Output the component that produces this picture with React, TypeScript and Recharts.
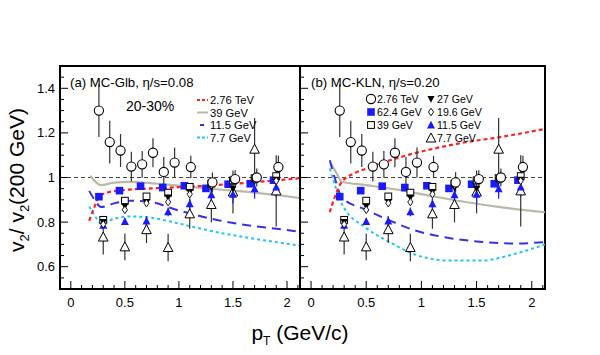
import React from 'react'
import {
  ComposedChart,
  Line,
  Scatter,
  ErrorBar,
  XAxis,
  YAxis,
  ReferenceLine,
  ReferenceArea,
} from 'recharts'

const FONT = '"Liberation Sans", Arial, Helvetica, sans-serif'

// tick labels
const X_MAJOR = [0, 0.5, 1, 1.5, 2]
const Y_MAJOR = [0.6, 0.8, 1, 1.2, 1.4]
const X_DOMAIN: [number, number] = [-0.1, 2.12]
const Y_DOMAIN: [number, number] = [0.5, 1.5]

// ALICE 2.76 TeV (open circles)
const alicePt = [0.26, 0.36, 0.46, 0.56, 0.66, 0.76, 0.86, 0.96, 1.11, 1.31, 1.52, 1.72, 1.92]
const aliceV = [1.3, 1.159, 1.121, 1.049, 1.059, 1.111, 1.025, 1.067, 1.047, 0.978, 0.993, 1.0, 1.047]
const aliceE = [0.118, 0.096, 0.074, 0.067, 0.06, 0.065, 0.067, 0.067, 0.05, 0.045, 0.04, 0.04, 0.05]

// STAR beam energy scan
const starPt = [0.3, 0.5, 0.7, 0.9, 1.1, 1.3, 1.5, 1.7, 1.9]
const pt62 = [0.26, 0.45, 0.645, 0.85, 1.05, 1.25, 1.455, 1.66, 1.875]
const v62 = [0.914, 0.941, 0.961, 0.955, 0.963, 0.951, 0.97, 0.972, 0.988]
const v39 = [0.81, 0.896, 0.915, 0.932, 0.958, 0.973, 0.987, 0.997, 1.006]
const v27 = [0.8, 0.871, 0.89, 0.91, 0.935, 0.955, 0.95, 0.985, 0.99]
const v19 = [0.79, 0.855, 0.885, 0.89, 0.925, 0.965, 0.985, 0.99, 0.985]
const v11 = [0.786, 0.803, 0.805, 0.846, 0.882, 0.923, 0.925, 0.95, 0.957]
const e11 = [0.015, 0.015, 0.02, 0.02, 0.025, 0.03, 0.04, 0.045, 0.045]
const v7 = [0.733, 0.689, 0.766, 0.686, 0.837, 0.879, 0.935, 1.127, 0.94]
const e7 = [0.078, 0.06, 0.06, 0.062, 0.067, 0.08, 0.096, 0.14, 0.16]

// hydro curves, panel (a) MC-Glb
const redAx = [0.17, 0.22, 0.26, 0.34, 0.5, 0.75, 1.0, 1.25, 1.5, 1.75, 2.12]
const redAy = [0.806, 0.87, 0.912, 0.933, 0.944, 0.951, 0.957, 0.963, 0.971, 0.981, 0.997]
const grayAx = [0.18, 0.28, 0.4, 0.55, 0.65, 0.85, 1.1, 1.4, 1.7, 2.12]
const grayAy = [1.008, 0.966, 0.977, 0.98, 0.978, 0.97, 0.958, 0.945, 0.932, 0.908]
const blueAx = [0.17, 0.22, 0.28, 0.4, 0.55, 0.7, 1.0, 1.3, 1.6, 1.9, 2.12]
const blueAy = [0.94, 0.9, 0.868, 0.884, 0.896, 0.893, 0.852, 0.815, 0.788, 0.77, 0.757]
const cyanAx = [0.17, 0.22, 0.28, 0.4, 0.55, 0.7, 0.9, 1.1, 1.4, 1.7, 2.12]
const cyanAy = [0.87, 0.83, 0.795, 0.815, 0.825, 0.822, 0.805, 0.782, 0.75, 0.725, 0.695]

// hydro curves, panel (b) MC-KLN
const redBx = [0.17, 0.22, 0.28, 0.4, 0.5, 0.8, 1.1, 1.4, 1.7, 2.12]
const redBy = [0.844, 0.92, 0.981, 1.02, 1.04, 1.09, 1.128, 1.158, 1.18, 1.218]
const grayBx = [0.18, 0.23, 0.28, 0.5, 0.8, 1.1, 1.4, 1.7, 2.12]
const grayBy = [1.062, 1.02, 0.981, 0.966, 0.944, 0.916, 0.89, 0.868, 0.844]
const blueBx = [0.17, 0.22, 0.28, 0.5, 0.7, 0.94, 1.25, 1.55, 1.85, 2.12]
const blueBy = [1.077, 0.99, 0.91, 0.855, 0.81, 0.763, 0.729, 0.711, 0.704, 0.71]
const cyanBx = [0.17, 0.22, 0.28, 0.5, 0.7, 0.94, 1.25, 1.55, 1.85, 2.12]
const cyanBy = [1.04, 0.96, 0.881, 0.773, 0.714, 0.655, 0.628, 0.628, 0.658, 0.7]

const zip = (xs: number[], ys: number[], es?: number[]) =>
  xs.map((x, i) => ({ x, y: ys[i], e: es ? es[i] : 0 }))

// minor ticks every 0.1 in x, 0.05 in y
const xTicks: number[] = []
for (let i = 0; i <= 21; i++) xTicks.push(Math.round(i * 10) / 100)
const yTicks: number[] = []
for (let i = 11; i <= 29; i++) yTicks.push(Math.round(i * 5) / 100)

const near = (v: number, list: number[]) => list.some((m) => Math.abs(m - v) < 1e-6)

const CURVE = {
  red: { stroke: '#ff2020', dash: '4 3', width: 2.2 },
  gray: { stroke: '#bcb8a8', dash: undefined, width: 2.2 },
  blue: { stroke: '#3a2ee6', dash: '9 6', width: 2 },
  cyan: { stroke: '#22c6ee', dash: '3 3', width: 2 },
}

// marker glyphs
const BLUE = '#1a1aff'
const openCircle = (cx: number, cy: number) => (
  <circle cx={cx} cy={cy} r={4.6} fill="#fff" stroke="#000" strokeWidth={1.1} />
)
const blueSquare = (cx: number, cy: number) => (
  <rect x={cx - 3.8} y={cy - 3.8} width={7.6} height={7.6} fill={BLUE} />
)
const openSquare = (cx: number, cy: number) => (
  <rect x={cx - 3.4} y={cy - 3.4} width={6.8} height={6.8} fill="#fff" stroke="#000" strokeWidth={1} />
)
const downTri = (cx: number, cy: number) => (
  <polygon points={`${cx - 3.6},${cy - 3} ${cx + 3.6},${cy - 3} ${cx},${cy + 3.8}`} fill="#000" />
)
const diamond = (cx: number, cy: number) => (
  <polygon
    points={`${cx},${cy - 3.8} ${cx + 2.6},${cy} ${cx},${cy + 3.8} ${cx - 2.6},${cy}`}
    fill="#fff"
    stroke="#000"
    strokeWidth={0.9}
  />
)
const blueTri = (cx: number, cy: number) => (
  <polygon points={`${cx - 4},${cy + 3.5} ${cx + 4},${cy + 3.5} ${cx},${cy - 4.2}`} fill={BLUE} />
)
const openTri = (cx: number, cy: number) => (
  <polygon
    points={`${cx - 4.8},${cy + 4} ${cx + 4.8},${cy + 4} ${cx},${cy - 5}`}
    fill="#fff"
    stroke="#000"
    strokeWidth={1}
  />
)

const XTick = (props: any) => {
  const { x, y, payload } = props
  const major = near(payload.value, X_MAJOR)
  return (
    <g>
      <line x1={x} y1={y} x2={x} y2={y - (major ? 8 : 4)} stroke="#000" strokeWidth={1} />
      {major && (
        <text x={x} y={y + 18} textAnchor="middle" fontSize={13} fontFamily={FONT} fill="#000">
          {payload.value}
        </text>
      )}
    </g>
  )
}

const makeYTick = (labels: boolean) => (props: any) => {
  const { x, y, payload } = props
  const major = near(payload.value, Y_MAJOR)
  return (
    <g>
      <line x1={x} y1={y} x2={x + (major ? 8 : 4)} y2={y} stroke="#000" strokeWidth={1} />
      {labels && major && (
        <text x={x - 5} y={y + 4.5} textAnchor="end" fontSize={13} fontFamily={FONT} fill="#000">
          {payload.value}
        </text>
      )}
    </g>
  )
}

interface PanelProps {
  left: number
  right: number
  showYLabels: boolean
  curves: { key: keyof typeof CURVE; xs: number[]; ys: number[] }[]
}

function Panel({ left, right, showYLabels, curves }: PanelProps) {
  return (
    <div style={{ position: 'absolute', left: 0, top: 0 }}>
      <ComposedChart
        width={600}
        height={355}
        margin={{ top: 66, right: 600 - right, bottom: 36, left: left - 40 }}
      >
        <XAxis
          type="number"
          dataKey="x"
          domain={X_DOMAIN}
          allowDataOverflow
          ticks={xTicks}
          interval={0}
          tick={<XTick />}
          tickLine={false}
          axisLine={false}
          tickSize={0}
          tickMargin={0}
          height={30}
        />
        <YAxis
          type="number"
          domain={Y_DOMAIN}
          allowDataOverflow
          ticks={yTicks}
          interval={0}
          tick={makeYTick(showYLabels)}
          tickLine={false}
          axisLine={false}
          tickSize={0}
          tickMargin={0}
          width={40}
        />
        <ReferenceLine y={1} stroke="#444" strokeDasharray="4 3" strokeWidth={1.2} />
        {curves.map((c) => (
          <Line
            key={c.key}
            data={zip(c.xs, c.ys)}
            dataKey="y"
            type="monotone"
            stroke={CURVE[c.key].stroke}
            strokeDasharray={CURVE[c.key].dash}
            strokeWidth={CURVE[c.key].width}
            dot={false}
            isAnimationActive={false}
          />
        ))}
        <Scatter
          data={zip(pt62, v62)}
          dataKey="y"
          shape={(p: any) => blueSquare(p.cx, p.cy)}
          isAnimationActive={false}
        />
        <Scatter
          data={zip(starPt, v7, e7)}
          dataKey="y"
          shape={(p: any) => openTri(p.cx, p.cy)}
          isAnimationActive={false}
        >
          <ErrorBar dataKey="e" direction="y" width={0} stroke="#333" strokeWidth={1.2} />
        </Scatter>
        <Scatter
          data={zip(starPt, v11, e11)}
          dataKey="y"
          shape={(p: any) => blueTri(p.cx, p.cy)}
          isAnimationActive={false}
        >
          <ErrorBar dataKey="e" direction="y" width={0} stroke={BLUE} strokeWidth={1.2} />
        </Scatter>
        <Scatter
          data={zip(starPt, v39)}
          dataKey="y"
          shape={(p: any) => openSquare(p.cx, p.cy)}
          isAnimationActive={false}
        />
        <Scatter
          data={zip(starPt, v27)}
          dataKey="y"
          shape={(p: any) => downTri(p.cx, p.cy)}
          isAnimationActive={false}
        />
        <Scatter
          data={zip(starPt, v19)}
          dataKey="y"
          shape={(p: any) => diamond(p.cx, p.cy)}
          isAnimationActive={false}
        />
        <Scatter
          data={zip(alicePt, aliceV, aliceE)}
          dataKey="y"
          shape={(p: any) => openCircle(p.cx, p.cy)}
          isAnimationActive={false}
        >
          <ErrorBar dataKey="e" direction="y" width={0} stroke="#333" strokeWidth={1.2} />
        </Scatter>
        <ReferenceArea
          x1={X_DOMAIN[0]}
          x2={X_DOMAIN[1]}
          y1={Y_DOMAIN[0]}
          y2={Y_DOMAIN[1]}
          fill="none"
          fillOpacity={0}
          stroke="#000"
          strokeWidth={2}
        />
      </ComposedChart>
    </div>
  )
}

function Overlay() {
  const legA = [
    { key: 'red' as const, label: '2.76 TeV' },
    { key: 'gray' as const, label: '39 GeV' },
    { key: 'blue' as const, label: '11.5 GeV' },
    { key: 'cyan' as const, label: '7.7 GeV' },
  ]
  const legB = [
    { m: openCircle, label: '2.76 TeV', col: 0, row: 0 },
    { m: blueSquare, label: '62.4 GeV', col: 0, row: 1 },
    { m: openSquare, label: '39 GeV', col: 0, row: 2 },
    { m: downTri, label: '27 GeV', col: 1, row: 0 },
    { m: diamond, label: '19.6 GeV', col: 1, row: 1 },
    { m: blueTri, label: '11.5 GeV', col: 1, row: 2 },
    { m: openTri, label: '7.7 GeV', col: 1, row: 3 },
  ]
  return (
    <svg
      width={600}
      height={355}
      style={{ position: 'absolute', left: 0, top: 0, pointerEvents: 'none' }}
      fontFamily={FONT}
    >
      <text x={70} y={87} fontSize={13.2}>
        (a) MC-Glb, η/s=0.08
      </text>
      <text x={126} y={111} fontSize={14}>
        20-30%
      </text>
      {legA.map((l, i) => (
        <g key={l.key}>
          <line
            x1={197}
            x2={208}
            y1={100 + i * 12.5}
            y2={100 + i * 12.5}
            stroke={CURVE[l.key].stroke}
            strokeWidth={2}
            strokeDasharray={l.key === 'red' || l.key === 'cyan' ? '3 2' : l.key === 'blue' ? '0 3 4 4' : undefined}
          />
          <text x={210} y={104 + i * 12.5} fontSize={11.2}>
            {l.label}
          </text>
        </g>
      ))}
      <text x={311} y={87} fontSize={13.2}>
        (b) MC-KLN, η/s=0.20
      </text>
      {legB.map((l) => {
        const cx = l.col === 0 ? 371 : 431
        const cy = 99 + l.row * 13
        return (
          <g key={l.label + l.col}>
            {l.m(cx, cy)}
            <text x={cx + 6} y={cy + 4} fontSize={10.6}>
              {l.label}
            </text>
          </g>
        )
      })}
      <text x={300} y={340} fontSize={21} textAnchor="middle">
        p<tspan fontSize={12} dy={5}>T</tspan>
        <tspan dy={-5}> (GeV/c)</tspan>
      </text>
      <text transform="translate(24,180) rotate(-90)" fontSize={21} textAnchor="middle">
        v<tspan fontSize={13} dy={5}>2</tspan>
        <tspan dy={-5}>/ v</tspan>
        <tspan fontSize={13} dy={5}>2</tspan>
        <tspan dy={-5}>(200 GeV)</tspan>
      </text>
    </svg>
  )
}

export default function App() {
  return (
    <div
      style={{
        position: 'absolute',
        left: 0,
        top: 0,
        width: 600,
        height: 355,
        background: '#fff',
        overflow: 'hidden',
        fontFamily: FONT,
      }}
    >
      <Panel
        left={60}
        right={300}
        showYLabels
        curves={[
          { key: 'gray', xs: grayAx, ys: grayAy },
          { key: 'cyan', xs: cyanAx, ys: cyanAy },
          { key: 'blue', xs: blueAx, ys: blueAy },
          { key: 'red', xs: redAx, ys: redAy },
        ]}
      />
      <Panel
        left={300}
        right={545}
        showYLabels={false}
        curves={[
          { key: 'gray', xs: grayBx, ys: grayBy },
          { key: 'cyan', xs: cyanBx, ys: cyanBy },
          { key: 'blue', xs: blueBx, ys: blueBy },
          { key: 'red', xs: redBx, ys: redBy },
        ]}
      />
      <Overlay />
    </div>
  )
}
